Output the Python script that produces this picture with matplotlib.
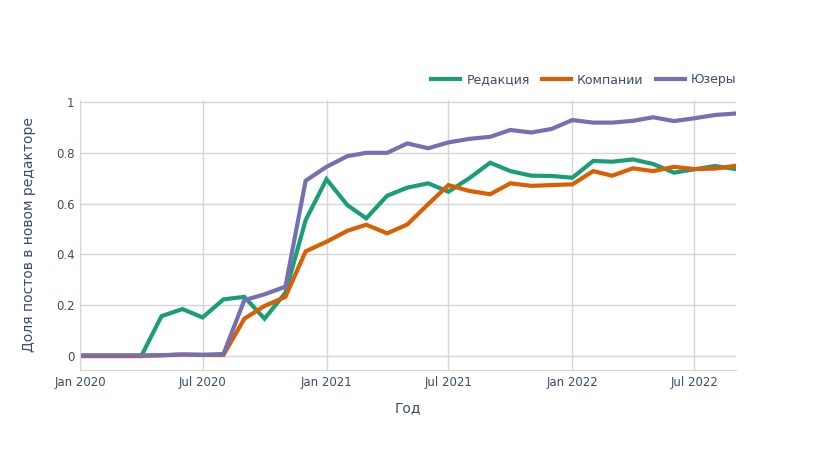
import pandas as pd
import matplotlib
matplotlib.use("Agg")
from matplotlib import pyplot as plt
import matplotlib.dates as mdates

months = pd.date_range("2020-01-01", "2022-09-01", freq="MS")

redaktsiya = [0.0, 0.0, 0.0, 0.0, 0.157, 0.185, 0.152, 0.223, 0.233, 0.147, 0.249, 0.535,
              0.696, 0.594, 0.542, 0.631, 0.663, 0.680, 0.647, 0.700, 0.761, 0.728, 0.710, 0.709,
              0.702, 0.768, 0.765, 0.774, 0.756, 0.722, 0.735, 0.748, 0.736]
kompanii = [0.0, 0.0, 0.0, 0.0, 0.003, 0.006, 0.004, 0.004, 0.147, 0.197, 0.233, 0.412,
            0.450, 0.493, 0.517, 0.483, 0.518, 0.598, 0.673, 0.650, 0.637, 0.680, 0.670, 0.673,
            0.676, 0.728, 0.710, 0.739, 0.728, 0.745, 0.736, 0.738, 0.749]
yuzery = [0.003, 0.003, 0.003, 0.003, 0.003, 0.006, 0.005, 0.008, 0.220, 0.243, 0.273, 0.690,
          0.745, 0.787, 0.800, 0.800, 0.837, 0.818, 0.841, 0.855, 0.863, 0.890, 0.880, 0.894,
          0.929, 0.919, 0.919, 0.926, 0.940, 0.925, 0.936, 0.949, 0.955]

series = [("Редакция", redaktsiya, "#1b9e77"),
          ("Компании", kompanii, "#d95f02"),
          ("Юзеры", yuzery, "#7570b3")]

plt.rcParams["font.family"] = ["DejaVu Sans"]
text_color = "#3b4c6b"
grid_color = "#d6d6d6"

fig = plt.figure(figsize=(8.16, 4.5), dpi=100)
ax = fig.add_axes([80 / 816, 80 / 450, 656 / 816, 270 / 450])

for name, vals, color in series:
    ax.plot(months, vals, color=color, linewidth=3, label=name, solid_joinstyle="miter")

ax.set_xlim(months[0], months[-1])
ax.set_ylim(-0.055, 1.008)
ax.set_yticks([0, 0.2, 0.4, 0.6, 0.8, 1])
ax.set_yticklabels(["0", "0.2", "0.4", "0.6", "0.8", "1"])
ax.xaxis.set_major_locator(mdates.MonthLocator(bymonth=[1, 7]))
ax.xaxis.set_major_formatter(mdates.DateFormatter("%b %Y"))

ax.grid(True, color=grid_color, linewidth=1)
ax.set_axisbelow(True)
for side in ["top", "right"]:
    ax.spines[side].set_visible(False)
for side in ["left", "bottom"]:
    ax.spines[side].set_color(grid_color)
ax.tick_params(axis="both", length=0, labelsize=8.5, labelcolor=text_color, pad=4)

ax.set_xlabel("Год", fontsize=10, color=text_color, labelpad=9)
ax.set_ylabel("Доля постов в новом редакторе", fontsize=10, color=text_color, labelpad=14)

fig.legend(loc="center right", bbox_to_anchor=(748 / 816, 1 - 80 / 450), ncol=3,
           frameon=False, fontsize=9, labelcolor=text_color, handlelength=2.3,
           columnspacing=1.0, handletextpad=0.5)

plt.savefig("out.png", dpi=100)
plt.close()
